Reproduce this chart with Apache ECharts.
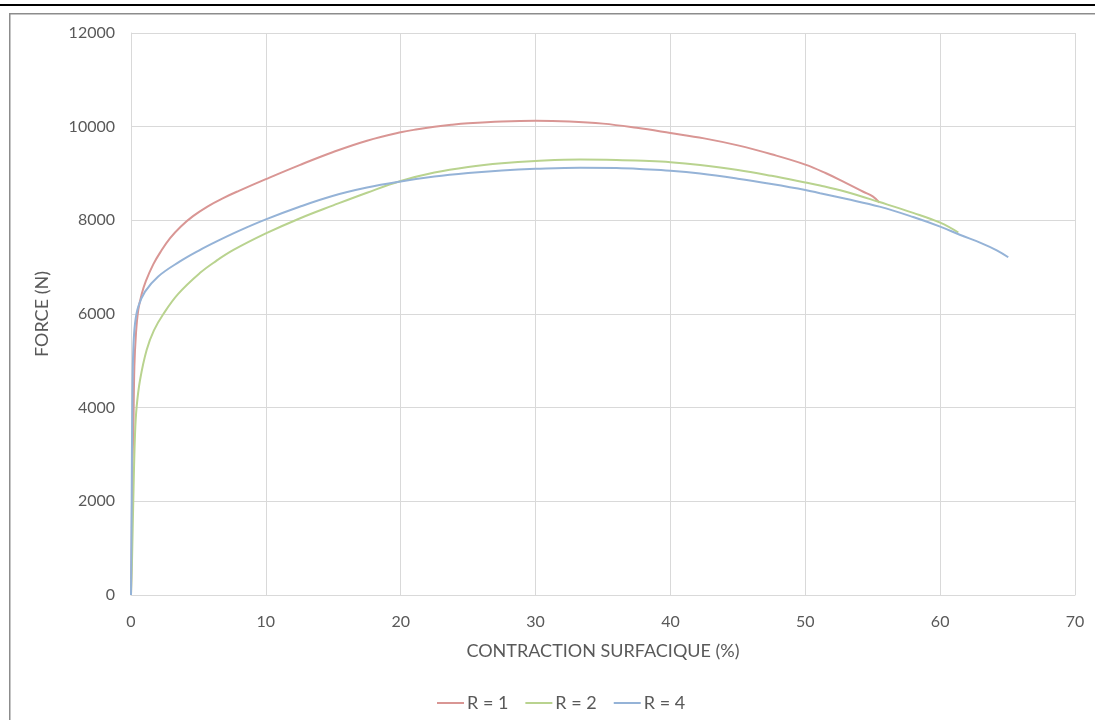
<!DOCTYPE html>
<html>
<head>
<meta charset="utf-8">
<script src="https://cdn.jsdelivr.net/npm/echarts@6/dist/echarts.min.js"></script>
<style>
html,body{margin:0;padding:0;background:#fff;}
#chart{width:1095px;height:720px;}
</style>
</head>
<body>
<div id="chart"></div>
<script>
var seriesNames = ['R = 1', 'R = 2', 'R = 4'];
var xTicks = [0, 10, 20, 30, 40, 50, 60, 70];
var yTicks = [0, 2000, 4000, 6000, 8000, 10000, 12000];

var r1Strain = [0,0.05,0.1,0.17,0.25,0.37,0.54,0.79,1.1,1.65,2.2,2.9,3.7,4.6,5.7,6.8,8,10,12.5,15,17.5,20,21.25,22.5,23.75,25,27.5,30,32.5,35,37.5,40,42.5,45,47.5,50,51.5,53,54.3,55,55.5];
var r1Force  = [0,1000,2740,3450,4875,5590,6090,6420,6700,7060,7330,7620,7870,8090,8300,8470,8630,8880,9180,9460,9700,9880,9945,9998,10040,10072,10112,10128,10112,10065,9975,9865,9750,9600,9410,9190,9010,8800,8610,8510,8377];

var r2Strain = [0,0.08,0.17,0.3,0.42,0.67,1.16,1.7,2.4,3.5,5.1,6.3,7.6,10,12.5,15,17.5,20,22.5,25,27.5,30,33.3,36,38,40,42.2,45,47.5,50,51.1,53,55.5,58,60,61.35];
var r2Force  = [0,800,2030,3450,4021,4590,5232,5650,6000,6430,6873,7130,7367,7720,8040,8320,8590,8840,9020,9140,9220,9268,9300,9290,9270,9240,9180,9075,8950,8810,8745,8610,8390,8160,7950,7740];

var r4Strain = [0,0.03,0.05,0.1,0.17,0.3,0.54,1.04,2.0,3.6,5,6.35,8,10,12.5,15,17.5,20,22.5,25,27.5,30,33.3,36,38,40,42.2,45,47.5,50,51.1,53,55.5,58,60,61.5,63,64.2,65.05];
var r4Force  = [0,1200,2030,4164,5232,5800,6157,6477,6797,7117,7350,7550,7775,8020,8290,8525,8700,8830,8935,9010,9065,9100,9125,9115,9092,9060,9000,8890,8775,8648,8580,8460,8292,8070,7865,7687,7520,7360,7211];

function pairs(xs, ys){ return xs.map(function(x,i){ return [x, ys[i]]; }); }

var FONT = 'Lato';
var TXT = '#595959';
var chart = echarts.init(document.getElementById('chart'), null, {renderer:'canvas'});
var colors = ['#D99694', '#B9D38F', '#95B3D7'];

function mkSeries(name, xs, ys, c){
  return {
    name: name, type: 'line', data: pairs(xs, ys),
    showSymbol: false, symbol: 'none', smooth: 0.4,
    lineStyle: {color: c, width: 2}, itemStyle: {color: c},
    emphasis: {disabled: true}, animation: false
  };
}

chart.setOption({
  animation: false,
  color: colors,
  textStyle: {fontFamily: FONT},
  grid: {left: 131, right: 20, top: 33, bottom: 125, containLabel: false},
  xAxis: {
    type: 'value', min: xTicks[0], max: xTicks[xTicks.length-1], interval: 10,
    name: 'CONTRACTION SURFACIQUE (%)', nameLocation: 'middle', nameGap: 47,
    nameTextStyle: {color: TXT, fontFamily: FONT, fontSize: 18},
    axisLine: {show: true, lineStyle: {color: '#d9d9d9', width: 1}},
    axisTick: {show: false},
    axisLabel: {color: TXT, fontFamily: FONT, fontSize: 16, margin: 19,
      formatter: function(v){ return String(v); }},
    splitLine: {show: true, lineStyle: {color: '#d9d9d9', width: 1}}
  },
  yAxis: {
    type: 'value', min: yTicks[0], max: yTicks[yTicks.length-1], interval: 2000,
    name: 'FORCE (N)', nameLocation: 'middle', nameGap: 80, nameRotate: 90,
    nameTextStyle: {color: TXT, fontFamily: FONT, fontSize: 18},
    axisLine: {show: true, lineStyle: {color: '#d9d9d9', width: 1}},
    axisTick: {show: false},
    axisLabel: {color: TXT, fontFamily: FONT, fontSize: 16, margin: 16,
      formatter: function(v){ return String(v); }},
    splitLine: {show: true, lineStyle: {color: '#d9d9d9', width: 1}}
  },
  legend: {
    top: 689, left: 432, icon: 'rect', itemWidth: 27, itemHeight: 2, itemGap: 17,
    textStyle: {color: TXT, fontFamily: FONT, fontSize: 18, padding: [0,0,0,-2]},
    data: seriesNames
  },
  graphic: [
    {type: 'rect', shape: {x: 0, y: 4, width: 1095, height: 2}, style: {fill: '#000'}, silent: true},
    {type: 'rect', shape: {x: 9, y: 13, width: 1086, height: 1.5}, style: {fill: '#8c8c8c'}, silent: true},
    {type: 'rect', shape: {x: 9, y: 13, width: 1.5, height: 707}, style: {fill: '#8c8c8c'}, silent: true}
  ],
  series: [
    mkSeries(seriesNames[0], r1Strain, r1Force, colors[0]),
    mkSeries(seriesNames[1], r2Strain, r2Force, colors[1]),
    mkSeries(seriesNames[2], r4Strain, r4Force, colors[2])
  ]
});
</script>
</body>
</html>
